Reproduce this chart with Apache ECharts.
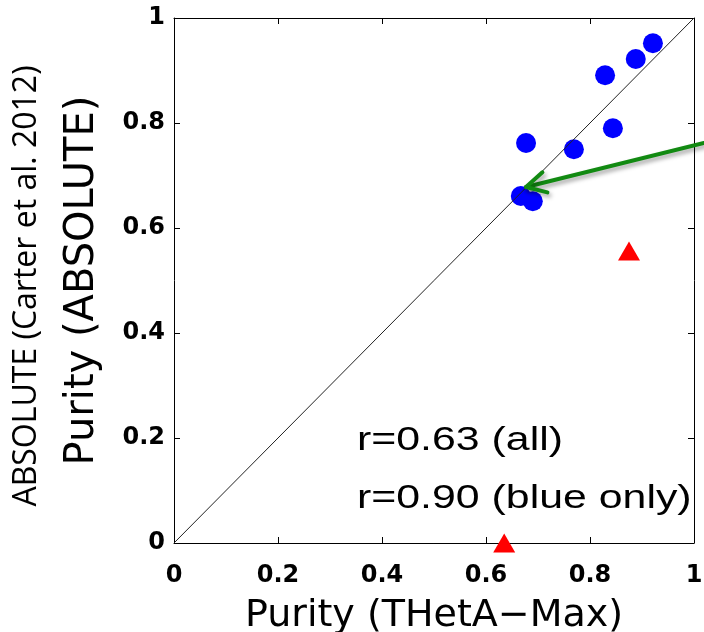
<!DOCTYPE html>
<html><head><meta charset="utf-8">
<script src="https://cdn.jsdelivr.net/npm/echarts@6/dist/echarts.min.js"></script>
<style>html,body{margin:0;padding:0;background:#fff}#c{width:704px;height:632px}</style>
</head><body><div id="c"></div>
<script>
// ---- data ----
const bluePoints = [[0.921,0.952],[0.888,0.922],[0.829,0.891],[0.844,0.790],[0.769,0.750],[0.677,0.762],[0.667,0.661],[0.690,0.651]];
const redPoints = [[0.875,0.556],[0.635,0.0]];
const diagonal = [[0,0],[1,1]];
const arrowFrom = [1.019,0.762];
const arrowTo = [0.677,0.678];
const statLines = ['r=0.63 (all)','r=0.90 (blue only)'];
const xTitle = 'Purity (THetA\u2212Max)';
const yTitle = 'Purity (ABSOLUTE)';
const ySubTitle = 'ABSOLUTE (Carter et al. 2012)';

const chart = echarts.init(document.getElementById('c'), null, {renderer:'canvas'});
function axisBase(){
  return {type:'value',min:0,max:1,interval:0.2,
    axisLine:{show:true,onZero:false,lineStyle:{color:'#000',width:1}},
    axisTick:{show:true,inside:true,length:6,lineStyle:{color:'#000',width:1}},
    splitLine:{show:false}};
}
const tickFont = {fontFamily:'DejaVu Sans',fontWeight:'bold',fontSize:24,color:'#000'};
const option = {
  animation:false,
  backgroundColor:'#fff',
  grid:{left:174,right:10,top:18,bottom:89,containLabel:false,outerBoundsMode:'none'},
  xAxis:[
    Object.assign(axisBase(),{position:'bottom',
      axisLabel:Object.assign({margin:21},tickFont),
      name:xTitle,nameLocation:'middle',nameGap:54,
      nameTextStyle:{fontFamily:'DejaVu Sans',fontSize:38,color:'#000'}}),
    Object.assign(axisBase(),{position:'top',axisLabel:{show:false}})
  ],
  yAxis:[
    Object.assign(axisBase(),{position:'left',
      axisLabel:Object.assign({margin:9},tickFont),
      name:yTitle,nameLocation:'middle',nameGap:71,
      nameTextStyle:{fontFamily:'DejaVu Sans',fontSize:40,color:'#000'}}),
    Object.assign(axisBase(),{position:'right',axisLabel:{show:false}})
  ],
  series:[
    {type:'scatter',data:bluePoints,symbol:'circle',symbolSize:20,itemStyle:{color:'#0000ff',opacity:1},clip:false,z:2},
    {type:'scatter',data:redPoints,symbol:'triangle',symbolSize:[22,19],itemStyle:{color:'#ff0000',opacity:1},clip:false,z:2},
    {type:'line',data:diagonal,symbol:'none',lineStyle:{color:'#222',width:1},z:3,silent:true}
  ]
};
chart.setOption(option);

const p0 = chart.convertToPixel({gridIndex:0}, arrowFrom);
const p1 = chart.convertToPixel({gridIndex:0}, arrowTo);
const dx = p0[0]-p1[0], dy = p0[1]-p1[1];
const len = Math.sqrt(dx*dx+dy*dy);
const ux = dx/len, uy = dy/len;
const ang = 28*Math.PI/180, armLen = 22;
function rot(a){return [p1[0]+armLen*(ux*Math.cos(a)-uy*Math.sin(a)), p1[1]+armLen*(ux*Math.sin(a)+uy*Math.cos(a))];}
const green = '#128a12';
const arrowStyle = {stroke:green,lineWidth:4,fill:null,shadowBlur:4,shadowColor:'rgba(0,0,0,0.35)',shadowOffsetX:2,shadowOffsetY:3,lineCap:'round',lineJoin:'round'};

chart.setOption({graphic:[
  {type:'polyline',shape:{points:[p0,p1]},style:arrowStyle,z:10},
  {type:'polyline',shape:{points:[rot(ang),p1,rot(-ang)]},style:arrowStyle,z:10},
  {type:'text',x:357,y:441,scaleX:1.26,z:10,style:{text:statLines[0],x:0,y:0,font:'34px "Liberation Sans"',fill:'#000',textAlign:'left',textVerticalAlign:'middle',align:'left',verticalAlign:'middle'}},
  {type:'text',x:357,y:499,scaleX:1.26,z:10,style:{text:statLines[1],x:0,y:0,font:'34px "Liberation Sans"',fill:'#000',textAlign:'left',textVerticalAlign:'middle',align:'left',verticalAlign:'middle'}},
  {type:'text',x:27,y:286,rotation:Math.PI/2,z:10,style:{text:ySubTitle,x:0,y:0,font:'32px "Open Sans"',fill:'#000',textAlign:'center',textVerticalAlign:'middle',align:'center',verticalAlign:'middle'}}
]});
</script></body></html>
